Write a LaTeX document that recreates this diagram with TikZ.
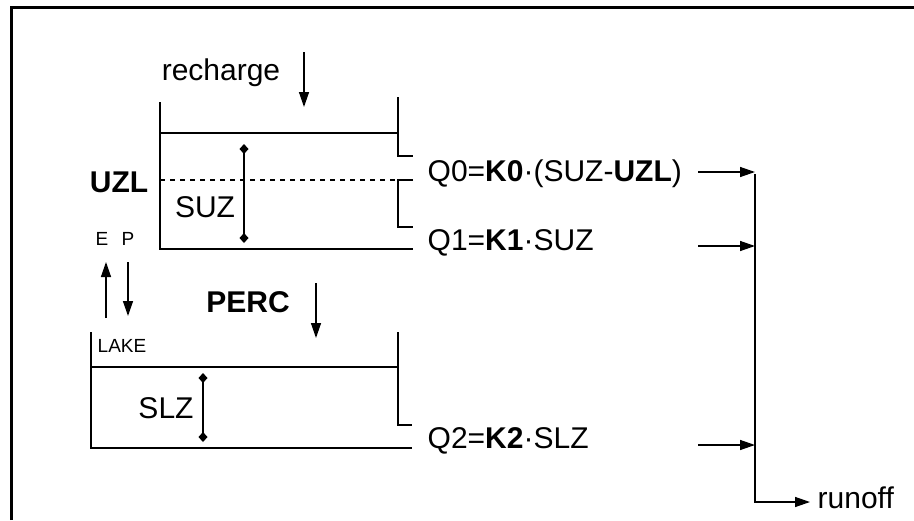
\documentclass[tikz,border=0pt]{standalone}
\usepackage{fontspec}
\setmainfont{Liberation Sans}
\usepackage{tikz}
\usetikzlibrary{arrows.meta}

\tikzset{
  lbl/.style={font=\fontsize{30}{36}\selectfont, inner sep=0pt},
  tiny/.style={font=\fontsize{19}{22}\selectfont, inner sep=0pt},
  flow/.style={-{Triangle[length=15pt,width=10pt]}},
  level/.style={{Turned Square[length=10pt,width=9pt]}-{Turned Square[length=10pt,width=9pt]}}
}

\begin{document}
\begin{tikzpicture}[x=1pt,y=-1pt,line width=1.4pt]

\useasboundingbox (0,0) rectangle (914,520) ;

\draw[line width=3pt] (11.5,520) -- (11.5,7.5) -- (914,7.5) ;

% upper zone
\draw (160,102) -- (160,249) -- (413,249) ;
\draw (160,133) -- (398,133) ;
\draw (398,97) -- (398,156) -- (413,156) ;
\draw[dash pattern=on 5pt off 5pt] (160,180) -- (398,180) ;
\draw (413,180) -- (398,180) -- (398,227) -- (413,227) ;
\draw[level] (244,144) -- (244,243) ;

\node[lbl, anchor=base] (recharge) at (221,80) {recharge} ;
\coordinate (rc_top) at (304,52) ;
\coordinate (rc_bot) at (304,107) ;
\draw[flow] (rc_top) -- (rc_bot) ;

\node[lbl, anchor=base] (uzl) at (119,192) {\bfseries UZL} ;
\node[lbl, anchor=base] (suz) at (205,217) {SUZ} ;
\node[tiny, anchor=base] (e) at (102,245) {E} ;
\node[tiny, anchor=base] (p) at (128,245) {P} ;

\coordinate (e_bot) at (106,318) ;
\coordinate (e_top) at (106,262) ;
\coordinate (p_top) at (128,262) ;
\coordinate (p_bot) at (128,316) ;
\draw[flow] (e_bot) -- (e_top) ;
\draw[flow] (p_top) -- (p_bot) ;

% lower zone
\draw (91,332) -- (91,448) -- (412,448) ;
\draw (91,367) -- (398,367) ;
\draw (398,332) -- (398,425) -- (412,425) ;
\draw[level] (203,373) -- (203,442) ;

\node[lbl, anchor=base] (perc) at (248,312) {\bfseries PERC} ;
\coordinate (pc_top) at (316,283) ;
\coordinate (pc_bot) at (316,338) ;
\draw[flow] (pc_top) -- (pc_bot) ;

\node[tiny, anchor=base west] (lake) at (97,352) {LAKE} ;
\node[lbl, anchor=base] (slz) at (166,418) {SLZ} ;

% outflows
\node[lbl, anchor=base west] (q0) at (427,181) {Q0=\textbf{K0}·(SUZ-\textbf{UZL})} ;
\node[lbl, anchor=base west] (q1) at (427,250) {Q1=\textbf{K1}·SUZ} ;
\node[lbl, anchor=base west] (q2) at (427,448) {Q2=\textbf{K2}·SLZ} ;
\node[lbl, anchor=base west] (runoff) at (817,508) {runoff} ;

\coordinate (s0) at (698,172) ;
\coordinate (s1) at (698,246) ;
\coordinate (s2) at (698,445) ;
\coordinate (c0) at (755,172) ;
\coordinate (c1) at (755,246) ;
\coordinate (c2) at (755,445) ;
\coordinate (cb) at (755,502) ;
\coordinate (ro) at (810,502) ;

\draw[flow] (s0) -- (c0) ;
\draw[flow] (s1) -- (c1) ;
\draw[flow] (s2) -- (c2) ;
\draw ([yshift=-2pt]c0) -- (cb) ;
\draw[flow] ([xshift=-0.7pt]cb) -- (ro) ;

\end{tikzpicture}
\end{document}
